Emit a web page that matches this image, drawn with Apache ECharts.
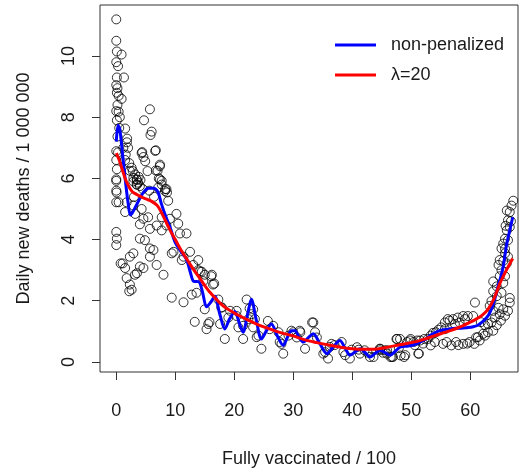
<!DOCTYPE html>
<html><head><meta charset="utf-8">
<script src="https://cdn.jsdelivr.net/npm/echarts@6/dist/echarts.min.js"></script>
<style>html,body{margin:0;padding:0;background:#fff}#c{width:520px;height:473px}</style>
</head><body><div id="c"></div>
<script>
const xTicks = [0, 10, 20, 30, 40, 50, 60];
const yTicks = [0, 2, 4, 6, 8, 10];
const xTitle = 'Fully vaccinated / 100';
const yTitle = 'Daily new deaths / 1 000 000';
const seriesNames = ['non-penalized', 'λ=20'];

const points = [
[0,11.2],[0,10.5],[0.1,10.15],[0.9,10.05],[0,9.8],[0.3,9.67],[0.1,9.3],[1.3,9.3],[0,9.05],[0.2,8.95],[0.1,8.8],[0.4,8.7],[0.9,8.6],[0,8.2],[0.4,8.18],[0.1,7.9],[1.5,7.63],[0.2,7.37],[1.8,7.18],[2.0,7.0],[0,6.89],[0.3,6.85],[0.1,6.3],[0,5.97],[0,5.6],[0,5.92],[0.05,5.54],[0,5.22],[0.4,5.22],[0,4.25],[0.1,4.03],[0,3.82],[0.74,3.22],[1.08,3.22],[0,6.6],[0.2,8.4],[0.5,7.65],[0.6,8.0],
[4.3,6.83],[7.4,6.45],[2.3,6.25],[7.2,6.0],[4.6,6.7],[5.7,8.26],[4.7,7.9],[6.0,7.53],[5.8,7.42],[6.6,6.9],[6.7,6.92],[4.4,6.86],[4.9,6.56],[7.4,6.4],[6.7,6.26],[7.0,6.25],[5.3,6.24],[7.4,5.97],[7.7,5.8],[8.3,5.65],[8.6,5.54],[2.2,6.5],[2.6,6.35],[2.8,6.24],[3.2,6.13],[3.45,5.97],[3.7,5.86],[4.0,5.75],[4.5,5.65],[2.9,6.02],[3.45,5.8],[1.6,6.78],[1.84,7.3],[3.5,5.8],[1.2,7.0],[1.5,6.6],
[1.76,2.74],[2.3,2.53],[2.6,2.36],[2.2,2.31],[3.17,2.85],[3.5,2.9],[4.0,3.12],[4.6,3.07],[1.5,3.07],[2.9,3.55],[2.3,3.44],[5.7,3.71],[6.3,3.66],[5.7,3.44],[6.84,3.17],[8.0,2.85],[4.0,4.03],[4.86,3.98],[5.7,4.35],[4.6,4.68],[4.0,4.5],[5.4,4.73],[3.2,4.84],[1.5,4.9],[2.9,5.11],[4.3,5.0],[1.76,5.22],[2.9,5.9],[3.5,5.95],[3.8,6.05],[4.1,5.95],[3.0,5.4],[5.6,5.6],[6.4,5.4],[7.1,5.7],[8.25,5.59],[8.8,5.27],[7.7,5.92],[8.5,5.65],[6.84,4.46],[7.7,4.3],[8.5,4.46],[7.7,4.73],[9.1,4.68],[10.2,4.84],[10.5,4.52],[10.8,4.2],[11.9,4.2],[9.7,3.6],[9.4,3.55],[9.4,2.1],[11.4,1.95],
[11.1,3.33],[11.4,3.44],[12.5,3.6],[13.9,3.33],[13.05,3.17],[14.5,2.95],[13.9,3.0],[15.0,2.85],[16.4,2.53],[16.1,2.8],[12.8,2.2],[13.6,2.26],[13.3,1.31],[15.6,1.24],[15.8,1.3],[15.3,1.07],[17.6,1.24],[18.4,0.75],[19.0,1.45],[20.4,1.5],[20.7,1.13],[21.5,0.75],[22.1,2.04],[22.4,1.4],[17.8,1.78],[19.3,1.67],[17.3,2.04],[14.2,2.96],[14.75,2.64],[16.2,2.85],[16.6,2.56],[15.0,1.72],[17.9,1.78],[20.4,1.67],
[22.9,1.56],[23.2,1.13],[23.8,0.81],[24.6,0.43],[25.7,1.34],[26.0,1.07],[27.5,0.97],[27.7,0.65],[28.3,0.27],[29.2,0.86],[29.7,1.02],[23.2,1.72],[23.5,1.4],[21.5,1.18],[24.1,0.86],[26.6,1.18],[28.0,0.59],[22.6,1.75],
[30.0,0.97],[31.2,0.97],[32.0,0.43],[33.2,1.29],[33.7,0.97],[34.0,0.8],[35.4,0.32],[35.9,0.11],[36.5,0.59],[38.2,0.65],[38.8,0.22],[39.6,0.11],[40.8,0.48],[41.1,0.4],[42.1,0.38],[43.0,0.16],[44.7,0.38],[45.5,0.38],[46.9,0.16],[47.5,0.75],[47.9,0.45],[33.4,1.29],[31.1,1.02],[35.1,0.27],[36.2,0.49],[38.5,0.32],[41.3,0.27],[43.6,0.16],[44.7,0.43],[45.9,0.27],[46.7,0.16],[48.1,0.75],[49.0,0.22],[49.8,0.7],[51.2,0.27],[37.0,0.55],[39.9,0.4],[42.6,0.3],[30.6,0.8],
[49.9,0.75],[49.3,0.65],[47.6,0.75],[48.2,0.21],[46.5,0.16],[48.8,0.16],[51.3,0.27],[53.3,0.54],[55.4,0.59],[56.8,0.54],[57.6,0.65],[58.8,0.59],[59.9,0.65],[60.7,0.59],[61.6,0.7],[62.5,0.86],[63.0,0.97],[59.1,1.4],[58.2,1.29],[57.4,1.24],[56.5,1.35],[55.7,1.07],[54.6,1.05],[53.7,0.95],[52.8,0.75],[50.4,0.65],[51.5,0.7],[45.9,0.38],[44.7,0.43],[45.2,0.3],[60.8,1.94],[60.5,1.5],[59.6,1.5],[58.8,1.5],[57.9,1.45],[57.1,1.4],[56.2,1.4],[55.7,1.29],[55.1,1.13],[54.2,0.97],[53.3,0.86],[52.2,0.75],[51.0,0.7],[50.6,0.55],[52.0,0.6],[54.0,0.65],[56.0,0.65],[58.0,0.55],[59.5,0.6],[61.0,0.8],[61.3,0.81],[62.2,0.92],[61.8,1.3],[62.5,1.2],
[67.3,5.27],[67.0,5.11],[66.2,4.95],[66.7,4.9],[66.4,4.63],[66.7,4.41],[66.2,4.3],[65.9,4.03],[66.4,3.98],[65.6,3.87],[65.3,3.71],[65.9,3.55],[65.0,3.33],[65.6,3.3],[64.8,3.17],[66.2,3.22],[65.3,3.0],[65.9,2.8],[65.0,2.8],[65.6,2.58],[63.9,2.31],[64.5,2.15],[65.3,2.26],[66.7,2.09],[63.6,1.99],[63.3,1.83],[63.9,1.67],[64.8,1.77],[65.6,1.72],[66.4,1.67],[65.9,1.51],[65.0,1.56],[64.2,1.45],[63.6,1.29],[63.0,1.24],[63.9,1.02],[66.7,1.94],[64.5,2.47],[63.9,2.63],[66.4,3.44],[65.9,3.7],[66.0,4.45],[66.9,4.6],[64.5,1.2],[65.2,1.35]
];

const blueX = [0,0.3,0.6,1.0,1.5,2.0,2.4,2.8,3.5,4.6,5.5,6.3,7.1,7.6,8.3,9.1,10.0,11.0,11.9,12.6,13.1,14.0,14.6,15.3,16.0,16.7,17.5,18.4,19.2,20.1,20.8,21.5,22.2,22.9,23.7,24.6,25.4,26.3,27.3,28.3,29.0,29.7,30.3,31.0,31.7,32.6,33.4,34.5,35.7,36.8,37.9,38.8,39.6,40.5,41.3,42.2,43.0,43.9,44.7,45.6,46.4,47.3,48.1,49.5,50.6,51.5,52.5,53.5,54.5,55.5,56.5,57.5,58.5,59.5,60.5,61.3,62.0,62.8,63.3,63.8,64.3,64.7,65.2,65.6,65.9,66.2,66.7,67.2];
const blueY = [7.2,7.74,7.6,6.9,6.0,5.2,4.8,4.9,5.16,5.54,5.68,5.68,5.54,5.2,4.8,4.41,3.9,3.6,3.35,2.9,2.64,2.62,2.3,1.8,1.95,2.15,1.6,1.08,1.4,1.65,1.3,0.97,1.5,2.05,1.4,0.75,1.0,1.24,0.85,0.54,0.8,1.02,1.02,0.8,0.65,0.8,0.92,0.6,0.27,0.5,0.70,0.45,0.22,0.33,0.43,0.3,0.16,0.28,0.38,0.3,0.22,0.35,0.48,0.52,0.57,0.65,0.75,0.9,1.0,1.05,1.08,1.1,1.1,1.12,1.15,1.2,1.3,1.45,1.6,1.83,2.15,2.47,2.8,3.12,3.5,3.87,4.3,4.73];

const redX = [0,0.5,1,1.5,2,2.5,3,4,5,6,7,8,9,10,11,12,13,14,15,16,18,20,22,24,26,28,30,32,34,36,38,40,42,44,46,48,50,52,54,56,58,60,61,62,63,64,65,66,67.2];
const redY = [6.83,6.6,6.3,6.0,5.78,5.62,5.52,5.42,5.33,5.25,5.1,4.75,4.35,4.0,3.65,3.35,3.05,2.78,2.5,2.25,1.85,1.6,1.4,1.22,1.08,0.95,0.85,0.72,0.63,0.55,0.48,0.43,0.41,0.42,0.48,0.56,0.63,0.73,0.86,0.98,1.12,1.3,1.4,1.52,1.72,2.05,2.55,2.95,3.38];

const zip = (xs, ys) => xs.map((x, i) => [x, ys[i]]);
const FONT = 'Liberation Sans, Arial, sans-serif';
const TXT = '#1a1a1a';

const chart = echarts.init(document.getElementById('c'), null, {renderer: 'canvas'});
chart.setOption({
  animation: false,
  grid: {left: 100, right: 2, top: 5, bottom: 96, show: true, borderColor: '#333', borderWidth: 1, backgroundColor: 'transparent'},
  legend: {
    data: seriesNames, orient: 'vertical', left: 335, top: 36, padding: 0,
    icon: 'rect', itemWidth: 41, itemHeight: 3, itemGap: 12,
    textStyle: {fontFamily: FONT, fontSize: 18, color: TXT, padding: [0, 0, 0, 10]},
    selectedMode: false
  },
  xAxis: {
    type: 'value', min: -2.76, max: 68.1,
    name: xTitle, nameLocation: 'middle', nameGap: 78,
    nameTextStyle: {fontFamily: FONT, fontSize: 18, color: TXT},
    axisLine: {show: false, onZero: false},
    splitLine: {show: false},
    axisTick: {show: true, length: 8, customValues: xTicks, lineStyle: {color: '#333', width: 1}},
    axisLabel: {customValues: xTicks, margin: 30, fontFamily: FONT, fontSize: 18, color: TXT}
  },
  yAxis: {
    type: 'value', min: -0.33, max: 11.67,
    name: yTitle, nameLocation: 'middle', nameGap: 67, nameRotate: 90,
    nameTextStyle: {fontFamily: FONT, fontSize: 18, color: TXT},
    axisLine: {show: false, onZero: false},
    splitLine: {show: false},
    axisTick: {show: true, length: 8, customValues: yTicks, lineStyle: {color: '#333', width: 1}},
    axisLabel: {customValues: yTicks, rotate: 90, margin: 22, fontFamily: FONT, fontSize: 18, color: TXT}
  },
  series: [
    {type: 'scatter', name: 'data', data: points, symbol: 'circle', symbolSize: 9,
     itemStyle: {color: 'rgba(0,0,0,0)', borderColor: '#000', borderWidth: 1}, z: 1, silent: true},
    {type: 'line', name: seriesNames[0], data: zip(blueX, blueY), smooth: 0.3, showSymbol: false,
     lineStyle: {color: '#0000ff', width: 3}, itemStyle: {color: '#0000ff'}, z: 2},
    {type: 'line', name: seriesNames[1], data: zip(redX, redY), smooth: 0.3, showSymbol: false,
     lineStyle: {color: '#ff0000', width: 3}, itemStyle: {color: '#ff0000'}, z: 3}
  ]
});
</script></body></html>
